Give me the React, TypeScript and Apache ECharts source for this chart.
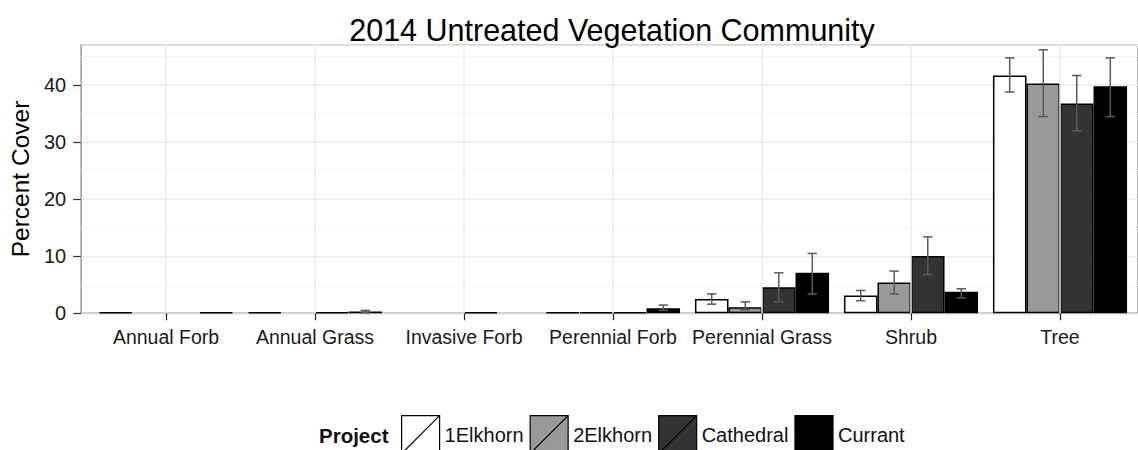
import React, { useEffect, useRef } from 'react';
import * as echarts from 'echarts';

const categories = ['Annual Forb', 'Annual Grass', 'Invasive Forb', 'Perennial Forb', 'Perennial Grass', 'Shrub', 'Tree'];
const projects = ['1Elkhorn', '2Elkhorn', 'Cathedral', 'Currant'];

const elkhorn1 = [0.2, 0.2, null, 0.15, 2.5, 3.1, 41.7];
const elkhorn2 = [null, null, null, 0.15, 1.05, 5.4, 40.3];
const cathedral = [null, 0.2, 0.2, 0.15, 4.55, 10.05, 36.8];
const currant = [0.2, 0.3, null, 0.9, 7.1, 3.8, 39.8];

const elkhorn1Low = [null, null, null, null, 1.6, 2.2, 38.8];
const elkhorn1High = [null, null, null, null, 3.4, 4.0, 44.8];
const elkhorn2Low = [null, null, null, null, 0.6, 3.4, 34.5];
const elkhorn2High = [null, null, null, null, 2.0, 7.4, 46.2];
const cathedralLow = [null, null, null, null, 2.0, 6.8, 32.0];
const cathedralHigh = [null, null, null, null, 7.1, 13.4, 41.7];
const currantLow = [null, 0.1, null, 0.5, 3.4, 2.7, 34.5];
const currantHigh = [null, 0.5, null, 1.45, 10.5, 4.3, 44.8];

const yMin = 0;
const yMax = 47.1;
const yInterval = 10;

const values = [elkhorn1, elkhorn2, cathedral, currant];
const lows = [elkhorn1Low, elkhorn2Low, cathedralLow, currantLow];
const highs = [elkhorn1High, elkhorn2High, cathedralHigh, currantHigh];

const fills = ['#ffffff', '#999999', '#333333', '#000000'];
const FONT = '"Liberation Sans", Arial, Helvetica, sans-serif';

export default function App() {
  const ref = useRef<HTMLDivElement>(null);

  useEffect(() => {
    document.body.style.margin = '0';
    if (!ref.current) return;
    const chart = echarts.init(ref.current, null, { renderer: 'svg' });

    const barSeries = projects.map((name, j) => ({
      name,
      type: 'bar',
      xAxisIndex: 1,
      yAxisIndex: 1,
      data: values[j],
      barGap: '0%',
      barCategoryGap: '10%',
      z: 2,
      itemStyle: { color: fills[j], borderColor: '#000', borderWidth: 1.5 },
      emphasis: { disabled: true },
    }));

    const errSeries = projects.map((name, j) => {
      const data: number[][] = [];
      categories.forEach((_, i) => {
        const lo = lows[j][i];
        const hi = highs[j][i];
        if (lo != null && hi != null) data.push([i, lo, hi]);
      });
      return {
        name: name + ' err',
        type: 'custom',
        xAxisIndex: 1,
        yAxisIndex: 1,
        z: 3,
        silent: true,
        encode: { x: 0, y: [1, 2] },
        data,
        renderItem: (params: any, api: any) => {
          const c = api.value(0);
          const lo = api.value(1);
          const hi = api.value(2);
          const bw = (api.size([1, 0])[0] * 0.9) / 4;
          const p1 = api.coord([c, lo]);
          const p2 = api.coord([c, hi]);
          const x = p1[0] + (j - 1.5) * bw;
          const half = bw * 0.14;
          const style = { stroke: '#5a5a5a', lineWidth: 1.5 };
          return {
            type: 'group',
            children: [
              { type: 'line', shape: { x1: x, y1: p1[1], x2: x, y2: p2[1] }, style },
              { type: 'line', shape: { x1: x - half, y1: p1[1], x2: x + half, y2: p1[1] }, style },
              { type: 'line', shape: { x1: x - half, y1: p2[1], x2: x + half, y2: p2[1] }, style },
            ],
          };
        },
      };
    });

    const gridSeries = {
      name: 'vgrid',
      type: 'line',
      xAxisIndex: 1,
      yAxisIndex: 1,
      data: [],
      z: 0,
      silent: true,
      markLine: {
        silent: true,
        symbol: ['none', 'none'],
        label: { show: false },
        lineStyle: { color: '#ebebeb', width: 1.5, type: 'solid' },
        data: categories.map((c) => ({ xAxis: c })),
        animation: false,
      },
    };

    const top = 44.7;
    const height = 268.6;

    chart.setOption({
      animation: false,
      textStyle: { fontFamily: FONT },
      title: {
        text: '2014 Untreated Vegetation Community',
        left: 612,
        top: 14,
        textAlign: 'center',
        padding: 0,
        textStyle: { fontFamily: FONT, fontSize: 30.5, fontWeight: 'normal', color: '#000' },
      },
      grid: [
        {
          left: 77,
          top,
          width: 1073,
          height,
          show: true,
          borderColor: '#9a9a9a',
          borderWidth: 1.5,
          backgroundColor: 'transparent',
        },
        {
          left: 91.5,
          top,
          width: 1043,
          height,
          show: false,
        },
      ],
      legend: {
        data: projects,
        left: 401,
        top: 415,
        padding: 0,
        itemWidth: 38,
        itemHeight: 38,
        itemGap: 6,
        icon: 'path://M0,0H38V38H0ZM0,38L38,0',
        itemStyle: { borderColor: '#000', borderWidth: 1.2 },
        textStyle: { fontFamily: FONT, fontSize: 20, color: '#111' },
        selectedMode: false,
      },
      graphic: [
        {
          type: 'text',
          x: 319,
          y: 435,
          style: {
            text: 'Project',
            fontFamily: FONT,
            fontSize: 20.5,
            fontWeight: 'bold',
            fill: '#111',
            textVerticalAlign: 'middle',
            verticalAlign: 'middle',
          },
        },
      ],
      xAxis: [
        {
          type: 'value',
          gridIndex: 0,
          min: 0,
          max: 1,
          show: false,
        },
        {
          type: 'category',
          gridIndex: 1,
          data: categories,
          boundaryGap: true,
          axisLine: { show: false },
          axisTick: { show: true, alignWithLabel: true, length: 7, lineStyle: { color: '#222', width: 1.2 } },
          axisLabel: { margin: 14, fontFamily: FONT, fontSize: 19.5, color: '#1a1a1a', interval: 0 },
          splitLine: { show: false },
        },
      ],
      yAxis: [
        {
          type: 'value',
          gridIndex: 0,
          min: yMin,
          max: yMax,
          interval: yInterval,
          name: 'Percent Cover',
          nameLocation: 'middle',
          nameGap: 42,
          nameTextStyle: { fontFamily: FONT, fontSize: 24.5, color: '#000' },
          axisLine: { show: false },
          axisTick: { show: true, length: 8, lineStyle: { color: '#333', width: 1.2 } },
          axisLabel: {
            margin: 15,
            fontFamily: FONT,
            fontSize: 20,
            color: '#1a1a1a',
            showMaxLabel: false,
          },
          splitLine: { show: true, lineStyle: { color: '#ebebeb', width: 1.5 } },
          minorTick: { show: false, splitNumber: 2 },
          minorSplitLine: { show: true, lineStyle: { color: '#f5f5f5', width: 1.2 } },
        },
        {
          type: 'value',
          gridIndex: 1,
          min: yMin,
          max: yMax,
          interval: yInterval,
          show: false,
          splitLine: { show: false },
        },
      ],
      series: [gridSeries, ...barSeries, ...errSeries],
    });

    return () => chart.dispose();
  }, []);

  return <div ref={ref} style={{ width: 1138, height: 450 }} />;
}
